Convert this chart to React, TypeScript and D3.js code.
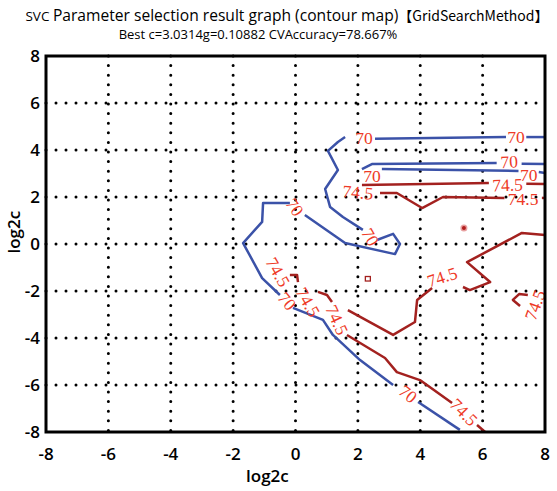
import React from "react";
import * as d3 from "d3";

// axis ticks (log2 scale values)
const xTicks = [-8, -6, -4, -2, 0, 2, 4, 6, 8];
const yTicks = [-8, -6, -4, -2, 0, 2, 4, 6, 8];

// contour level 70 (blue), pieces between inline labels
const blue70: [number, number][][] = [
  [[8, 4.55], [7.4, 4.55]],
  [[6.75, 4.55], [2.55, 4.48]],
  [[1.59, 4.55], [1.36, 4.34], [1.04, 3.96], [1.36, 3.15], [0.95, 2.34], [1.11, 1.57], [1.52, 1.15], [2.16, 0.6]],
  [[2.61, 0.17], [3.13, 0.43], [3.35, 0], [3.19, -0.43], [1.59, 0.04], [0.3, 1.23]],
  [[-0.18, 1.74], [-1.04, 1.74], [-1.07, 0.94], [-1.68, 0.04], [-1.07, -1.45], [-0.5, -2.17]],
  [[-0.08, -2.72], [0.88, -3.23], [1.2, -3.87], [2.07, -4.94], [3.13, -6.0]],
  [[3.93, -6.72], [5.27, -7.91]],
  [[8, 3.4], [7.25, 3.42]],
  [[6.45, 3.45], [2.45, 3.4], [2.13, 3.19]],
  [[2.77, 3.19], [7.15, 3.11]],
  [[7.8, 3.06], [8, 3.02]],
];

// contour level 74.5 (dark red)
const red745: [number, number][][] = [
  [[8, 2.55], [7.4, 2.56]],
  [[6.2, 2.6], [2.13, 2.51]],
  [[2.71, 2.17], [3.25, 2.17], [4.06, 1.53], [4.73, 2.0], [6.7, 1.96]],
  [[7.9, 1.96], [8, 1.96]],
  [[8, 0.38], [7.26, 0.47], [5.5, -0.77], [6.24, -1.62], [5.59, -1.96], [5.37, -1.83]],
  [[4.38, -1.87], [3.9, -2.38], [3.83, -3.32], [3.13, -3.87], [1.68, -2.81]],
  [[1.65, -3.87], [2.87, -4.85], [3.25, -5.45], [3.99, -5.79], [5.02, -6.77]],
  [[5.82, -7.7], [6.08, -8]],
  [[1.17, -2.47], [1.01, -2.17], [0.72, -2.04]],
  [[0.08, -1.62], [0.05, -1.32], [-0.18, -1.32]],
  [[7.45, -2.17], [7.17, -2.13], [6.97, -2.38], [7.2, -2.64]],
];

// inline contour labels: text, log2c, log2g, angle
const contourLabels: [string, number, number, number][] = [
  ["70", 7.07, 4.55, 0],
  ["70", 2.2, 4.52, 0],
  ["70", 2.4, 0.3, 60],
  ["70", -0.02, 1.57, 55],
  ["70", -0.27, -2.43, 50],
  ["70", 3.61, -6.38, 38],
  ["70", 6.85, 3.5, -3],
  ["70", 2.45, 2.89, 0],
  ["70", 7.48, 2.94, 0],
  ["74.5", 6.8, 2.52, -2],
  ["74.5", 2.0, 2.2, 5],
  ["74.5", 7.3, 1.9, 0],
  ["74.5", 4.7, -1.4, -18],
  ["74.5", 1.33, -3.23, 65],
  ["74.5", 5.4, -7.15, 45],
  ["74.5", 0.4, -2.47, 60],
  ["74.5", -0.56, -1.19, 60],
  ["74.5", 7.68, -2.6, -70],
];

const stray: [number, number] = [2.32, -1.49];
const bestPoint: [number, number] = [5.4, 0.68];

const W = 557;
const H = 491;
const margin = { top: 56, right: 12, bottom: 59, left: 46 };
const sans = "'Open Sans', 'Noto Sans', sans-serif";

export default function App() {
  const width = W - margin.left - margin.right;
  const height = H - margin.top - margin.bottom;

  const x = d3.scaleLinear().domain([-8, 8]).range([0, width]);
  const y = d3.scaleLinear().domain([-8, 8]).range([height, 0]);

  const line = d3
    .line<[number, number]>()
    .x((d) => x(d[0]))
    .y((d) => y(d[1]));

  const inner = [-6, -4, -2, 0, 2, 4, 6];

  return (
    <svg width={W} height={H} style={{ position: "absolute", left: 0, top: 0, background: "#fff" }}>
      <text x={287} y={21} textAnchor="middle" fontFamily={sans} fontSize={15.6}>
        <tspan fontSize={13.5}>SVC </tspan>
        <tspan>Parameter selection result graph (contour map)</tspan>
        <tspan fontSize={14} fontFamily="'Noto Sans CJK SC', sans-serif">【GridSearchMethod】</tspan>
      </text>
      <text x={258} y={39} textAnchor="middle" fontFamily={sans} fontSize={13}>
        Best c=3.0314g=0.10882 CVAccuracy=78.667%
      </text>

      <g transform={`translate(${margin.left},${margin.top})`}>
        {/* dotted grid */}
        {inner.map((v) => (
          <line
            key={"gx" + v}
            x1={x(v)}
            x2={x(v)}
            y1={0}
            y2={height}
            stroke="#000"
            strokeWidth={3}
            strokeLinecap="round"
            strokeDasharray="0 9.6"
          />
        ))}
        {inner.map((v) => (
          <line
            key={"gy" + v}
            x1={0}
            x2={width}
            y1={y(v)}
            y2={y(v)}
            stroke="#000"
            strokeWidth={3}
            strokeLinecap="round"
            strokeDasharray="0 10"
          />
        ))}

        {blue70.map((seg, i) => (
          <path key={"b" + i} d={line(seg) || ""} fill="none" stroke="#3b52a8" strokeWidth={2.5} strokeLinejoin="round" />
        ))}
        {red745.map((seg, i) => (
          <path key={"r" + i} d={line(seg) || ""} fill="none" stroke="#a3211f" strokeWidth={2.5} strokeLinejoin="round" />
        ))}

        <rect x={x(stray[0]) - 2.5} y={y(stray[1]) - 2.5} width={5} height={4.5} fill="none" stroke="#a3211f" strokeWidth={1.3} />
        <circle cx={x(bestPoint[0])} cy={y(bestPoint[1])} r={3.5} fill="#e8a0a0" />
        <circle cx={x(bestPoint[0])} cy={y(bestPoint[1])} r={2} fill="#b01e1e" />

        {contourLabels.map(([t, cx, cy, a], i) => (
          <text
            key={"l" + i}
            transform={`translate(${x(cx)},${y(cy)}) rotate(${a})`}
            textAnchor="middle"
            dy="0.35em"
            fontFamily="'Liberation Serif', 'DejaVu Serif', serif"
            fontSize={17.5}
            fill="#ee3a27"
          >
            {t}
          </text>
        ))}

        <rect x={0} y={0} width={width} height={height} fill="none" stroke="#000" strokeWidth={3} />

        {xTicks.map((v) => (
          <text key={"xt" + v} x={x(v)} y={height + 28} textAnchor="middle" fontFamily={sans} fontSize={17} fontWeight={600}>
            {v}
          </text>
        ))}
        {yTicks.map((v) => (
          <text key={"yt" + v} x={-6} y={y(v)} dy="0.36em" textAnchor="end" fontFamily={sans} fontSize={17} fontWeight={600}>
            {v}
          </text>
        ))}
        <text x={x(-0.9)} y={height + 50} textAnchor="middle" fontFamily={sans} fontSize={17} fontWeight={600}>
          log2c
        </text>
        <text
          transform={`translate(${-26},${y(0.5)}) rotate(-90)`}
          textAnchor="middle"
          fontFamily={sans}
          fontSize={17}
          fontWeight={600}
        >
          log2c
        </text>
      </g>
    </svg>
  );
}
